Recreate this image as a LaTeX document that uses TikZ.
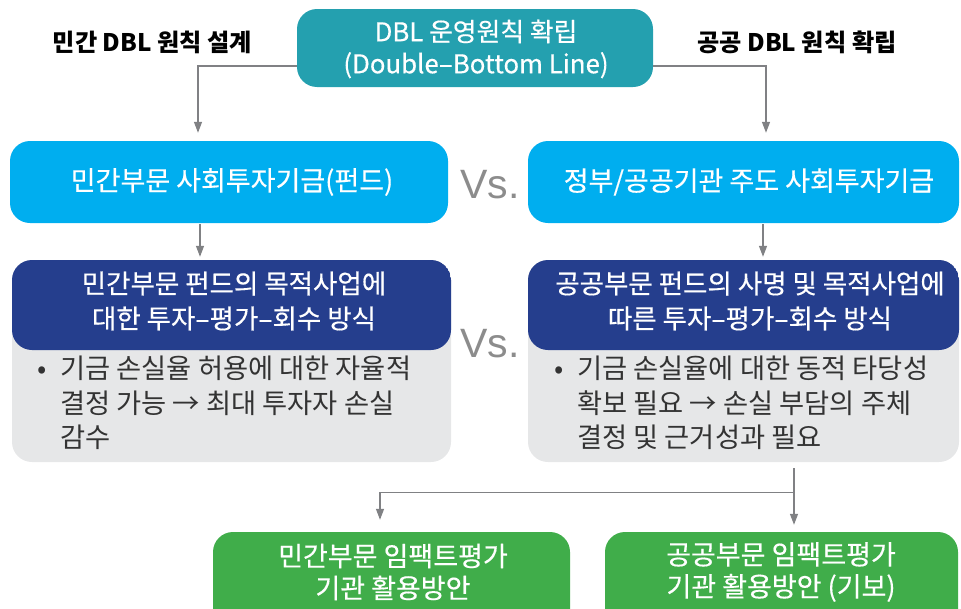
\documentclass[tikz,border=0pt]{standalone}
\usepackage{fontspec}
\setmainfont{Noto Sans CJK KR}
\newfontfamily\vsfont{Liberation Sans}
\newfontfamily\krmed{Noto Sans CJK KR}[FakeBold=0.4]
\usetikzlibrary{arrows.meta}
\definecolor{tealc}{HTML}{24A0AF}
\definecolor{cyanc}{HTML}{00AEEF}
\definecolor{dbluec}{HTML}{253E8D}
\definecolor{lgrayc}{HTML}{E6E7E8}
\definecolor{greenc}{HTML}{40AD4A}
\definecolor{arrgray}{HTML}{808184}
\definecolor{vsgray}{HTML}{8C8C8C}
\definecolor{bodytext}{HTML}{333333}
\begin{document}
\begin{tikzpicture}[x=1pt,y=-1pt,
  shapebox/.style={inner sep=0pt, rounded corners=20pt},
  toptext/.style={inner sep=0pt, text=white, align=center, font=\krmed\fontsize{25.8}{32}\selectfont},
  cyantext/.style={inner sep=0pt, text=white, align=center, font=\krmed\fontsize{27}{32}\selectfont},
  headtext/.style={inner sep=0pt, text=white, align=center, font=\krmed\fontsize{26.5}{35}\selectfont},
  bodytxt/.style={inner sep=0pt, text=bodytext, align=left, anchor=west, font=\fontsize{27.3}{34.5}\selectfont},
  greentext/.style={inner sep=0pt, text=white, align=center, font=\krmed\fontsize{27}{32}\selectfont},
  lbl/.style={inner sep=0pt, text=black, font=\bfseries\fontsize{24.2}{28}\selectfont},
  vs/.style={inner sep=0pt, text=vsgray, anchor=base, font=\vsfont\fontsize{41}{45}\selectfont},
  compbox/.style={shapebox, fill=lgrayc,
    path picture={\fill[dbluec] (path picture bounding box.north west) rectangle ([yshift=-90pt]path picture bounding box.north east);}},
  arr/.style={draw=arrgray, line width=1.3pt, -{Triangle[length=11pt,width=8pt]}}
]
\useasboundingbox (0,0) rectangle (961,608);

% top
\node[shapebox, fill=tealc, minimum width=356pt, minimum height=78pt] (top) at (475,48) {};
\node[toptext] (toptxt) at (476,49) {DBL 운영원칙 확립\\(Double–Bottom Line)};
\node[lbl] (llbl) at (152.5,42) {민간 DBL 원칙 설계};
\node[lbl] (rlbl) at (797,42) {공공 DBL 원칙 확립};

% cyan boxes
\node[shapebox, fill=cyanc, minimum width=438pt, minimum height=82pt] (lcyan) at (229,182) {};
\node[cyantext] (lcyantxt) at (232,182) {민간부문 사회투자기금(펀드)};
\node[shapebox, fill=cyanc, minimum width=431pt, minimum height=82pt] (rcyan) at (743.5,182) {};
\node[cyantext] (rcyantxt) at (749,182) {정부/공공기관 주도 사회투자기금};
\node[vs] (vs1) at (490,198) {Vs.};

% composite boxes
\node[compbox, minimum width=439pt, minimum height=202pt] (lbox) at (231.5,361) {};
\node[headtext] (lhead) at (234,301) {민간부문 펀드의 목적사업에\\대한 투자–평가–회수 방식};
\node[bodytxt] (lbody) at (60,403) {\makebox[0pt][r]{•\hspace{13pt}}기금 손실율 허용에 대한 자율적\\결정 가능 → 최대 투자자 손실\\감수};
\node[compbox, minimum width=431pt, minimum height=202pt] (rbox) at (743.5,361) {};
\node[headtext] (rhead) at (750,301) {공공부문 펀드의 사명 및 목적사업에\\따른 투자–평가–회수 방식};
\node[bodytxt] (rbody) at (577,403) {\makebox[0pt][r]{•\hspace{13pt}}기금 손실율에 대한 동적 타당성\\확보 필요 → 손실 부담의 주체\\결정 및 근거성과 필요};
\node[vs] (vs2) at (490,357) {Vs.};

% green boxes
\node[shapebox, fill=greenc, minimum width=357pt, minimum height=100pt] (lgreen) at (391.5,582) {};
\node[greentext] (lgreentxt) at (393,572) {민간부문 임팩트평가\\기관 활용방안};
\node[shapebox, fill=greenc, minimum width=353pt, minimum height=100pt] (rgreen) at (781.5,582) {};
\node[greentext] (rgreentxt) at (781,572) {공공부문 임팩트평가\\기관 활용방안 (기보)};

% connectors
\draw[arr, shorten >=8pt] ([yshift=-18pt]top.west) -| ([xshift=-31pt]lcyan.north);
\draw[arr, shorten >=8pt] ([yshift=-18pt]top.east) -| ([xshift=22.5pt]rcyan.north);
\draw[arr, shorten <=1pt, shorten >=3pt] ([xshift=-29pt]lcyan.south) -- ([xshift=-29pt]lcyan.south |- lbox.north);
\draw[arr, shorten <=1pt, shorten >=3pt] ([xshift=19.5pt]rcyan.south) -- ([xshift=19.5pt]rcyan.south |- rbox.north);
\coordinate (split) at ([xshift=50.5pt,yshift=-30pt]rbox.south);
\draw[arr, shorten <=6pt, shorten >=7pt] ([xshift=50.5pt]rbox.south) -- ([xshift=50.5pt]rbox.south |- rgreen.north);
\draw[arr, shorten >=12pt] (split) -| ([xshift=-11.5pt]lgreen.north);
\end{tikzpicture}
\end{document}
